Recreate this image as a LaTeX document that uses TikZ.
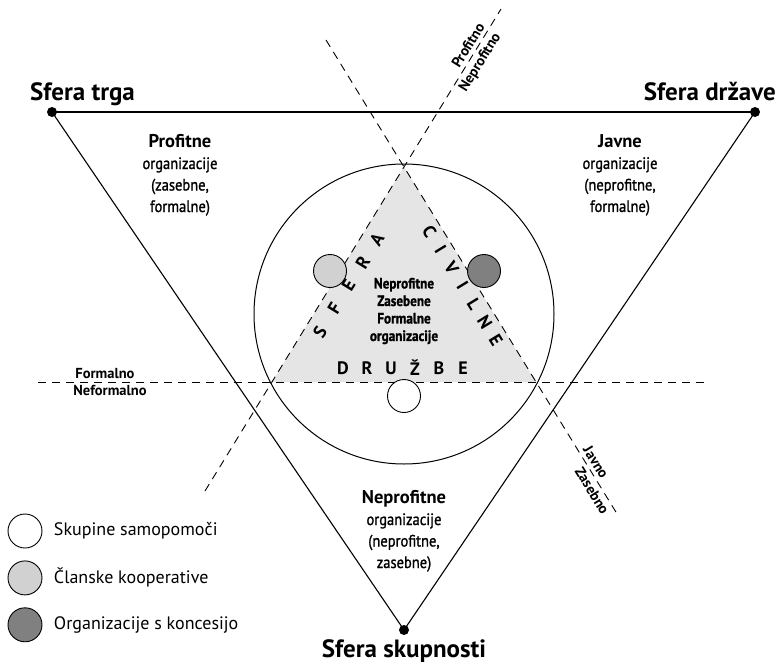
\documentclass[tikz,border=0pt]{standalone}
\usepackage{fontspec}
\setmainfont{PT Sans}
\newfontfamily\condfont[FakeStretch=0.88,FakeBold=1.2]{PT Sans}
\newcommand\headfont{\normalfont\bfseries\fontsize{18.5}{21.5}\selectfont}
\usetikzlibrary{positioning}
\definecolor{Civil}{gray}{0.9}
\definecolor{Member}{gray}{0.82}
\definecolor{Concession}{gray}{0.5}

\begin{document}
\begin{tikzpicture}
    [
    x=1pt, y=-1pt,
    node distance=12pt and 8pt,
    dot/.style={
        circle,
        fill=black,
        inner sep=0,
        minimum size=10pt
    },
    sphere/.style={
        font=\fontsize{25}{28}\selectfont\bfseries,
        inner sep=0
    },
    side/.style={
        draw=black,
        line width=1.1pt
    },
    split/.style={
        draw=black,
        line width=0.9pt,
        dash pattern=on 8pt off 6pt
    },
    org/.style={
        circle,
        draw=black,
        line width=0.9pt,
        minimum size=33pt,
        inner sep=0
    },
    orgtxt/.style={
        align=center,
        font=\condfont\fontsize{16.5}{21.5}\selectfont
    },
    midtxt/.style={
        align=center,
        font=\condfont\bfseries\fontsize{15}{17.5}\selectfont
    },
    letter/.style={
        font=\bfseries\fontsize{18}{18}\selectfont,
        inner sep=0
    },
    axis/.style={
        font=\bfseries\fontsize{14.5}{16}\selectfont,
        inner sep=3.5pt
    },
    legtxt/.style={
        font=\fontsize{18}{20}\selectfont,
        anchor=west
    }
    ]
    \useasboundingbox (0,0) rectangle (777,664);

    % gray sector of civil society
    \coordinate (apex) at (404,167);
    \coordinate (gl) at (272,382);
    \coordinate (gr) at (536,382);
    \fill[Civil] (apex) -- (gl) -- (gr) -- cycle;

    % three spheres
    \node (trg)[dot] at (52,112) {};
    \node (drz)[dot] at (755,112) {};
    \node (skup)[dot] at (404,630) {};
    \node (trglbl)[sphere,anchor=base west] at (30,100) {Sfera trga};
    \node (drzlbl)[sphere,anchor=base east] at (776,100) {Sfera države};
    \node (skuplbl)[sphere,below=4pt of skup] {Sfera skupnosti};

    \draw[side] (trg.center) -- (drz.center);
    \draw[side] (drz.center) -- (skup.center);
    \draw[side] (skup.center) -- (trg.center);

    \node (civ)[circle,draw=black,line width=1pt,minimum size=300pt,inner sep=0] at (404,314) {};

    % dividing lines
    \coordinate (pa) at (205,491);
    \coordinate (pb) at (501,9);
    \coordinate (ja) at (326,40);
    \coordinate (jb) at (619,517);
    \coordinate (fa) at (38,382);
    \coordinate (fb) at (706,382);
    \draw[split] (pa) -- (pb)
        node (profit)[axis,pos=0.915,sloped,above] {Profitno}
        node (neprofit)[axis,pos=0.9,sloped,below] {Neprofitno};
    \draw[split] (ja) -- (jb)
        node (javno)[axis,pos=0.895,sloped,above] {Javno}
        node (zasebno)[axis,pos=0.935,sloped,below] {Zasebno};
    \draw[split] (fa) -- (fb);
    \node (formal)[axis,anchor=south] at (105,382) {Formalno};
    \node (neformal)[axis,anchor=north] at (110,382) {Neformalno};

    % sector texts
    \node (prof)[orgtxt] at (180,175) {{\headfont Profitne}\\organizacije\\(zasebne,\\formalne)};
    \node (javne)[orgtxt] at (620,175) {{\headfont Javne}\\organizacije\\(neprofitne,\\formalne)};
    \node (nepr)[orgtxt] at (404,531) {{\headfont Neprofitne}\\organizacije\\(neprofitne,\\zasebne)};
    \node (mid)[midtxt] at (404,311) {Neprofitne\\Zasebene\\Formalne\\organizacije};

    % civil society lettering
    \foreach \l [count=\i from 0] in {S,F,E,R,A}
        \node (sf\i)[letter,rotate=58.5] at (320.1+14.2*\i, 331.7-23.1*\i) {\l};
    \foreach \l [count=\i from 0] in {C,I,V,I,L,N,E}
        \node (cv\i)[letter,rotate=-58.5] at (429.4+11.1*\i, 231.3+18.1*\i) {\l};
    \foreach \l [count=\i from 0] in {D,R,U,Ž,B,E}
        \node (dr\i)[letter] at (343+24*\i, 368) {\l};

    % organisations
    \node (coop)[org,fill=Member] at (330,271) {};
    \node (conc)[org,fill=Concession] at (484,271) {};
    \node (self)[org,fill=white] at (404,396) {};

    % legend
    \node (l1)[org,fill=white,minimum size=34pt] at (25,531) {};
    \node (l2)[org,fill=Member,minimum size=34pt,below=of l1] {};
    \node (l3)[org,fill=Concession,minimum size=34pt,below=of l2] {};
    \node (t1)[legtxt,right=of l1] {Skupine samopomoči};
    \node (t2)[legtxt,right=of l2] {Članske kooperative};
    \node (t3)[legtxt,right=of l3] {Organizacije s koncesijo};
\end{tikzpicture}
\end{document}
